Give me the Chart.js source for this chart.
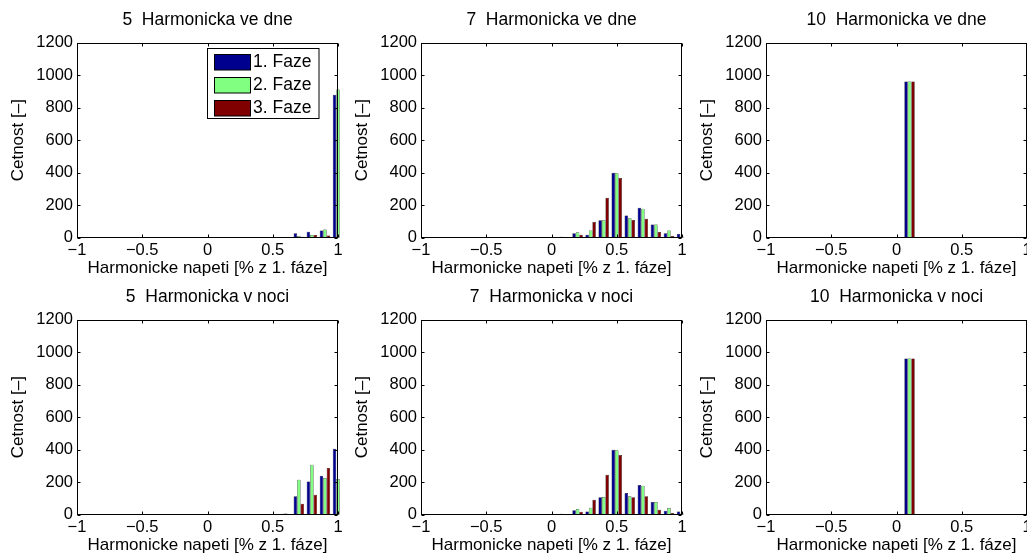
<!DOCTYPE html>
<html>
<head>
<meta charset="utf-8">
<script src="https://cdn.jsdelivr.net/npm/chart.js@4/dist/chart.umd.min.js"></script>
<style>
    html, body { margin: 0; padding: 0; background: #fff; overflow: hidden; }
    #wrap { position: relative; width: 1027px; height: 555px; overflow: hidden; }
    canvas { position: absolute; }
</style>
</head>
<body>
<div id="wrap">
    <canvas id="p1" width="346" height="280" style="left:0px;top:0px"></canvas>
    <canvas id="p2" width="346" height="280" style="left:344px;top:0px"></canvas>
    <canvas id="p3" width="346" height="280" style="left:689px;top:0px"></canvas>
    <canvas id="p4" width="346" height="280" style="left:0px;top:277px"></canvas>
    <canvas id="p5" width="346" height="280" style="left:344px;top:277px"></canvas>
    <canvas id="p6" width="346" height="280" style="left:689px;top:277px"></canvas>
</div>
<script>
// bin centres and phases
const bins   = [0.1, 0.2, 0.3, 0.4, 0.5, 0.6, 0.7, 0.8, 0.9, 1.0]
const phases = ['1. Faze', '2. Faze', '3. Faze']
const colors = ['#00008f', '#80ff80', '#800000']

// 5. harmonicka ve dne
const h5_day_1 = [0, 0, 0, 0, 1, 2, 27, 37, 45, 880]
const h5_day_2 = [0, 0, 0, 0, 0, 1, 10, 16, 51, 912]
const h5_day_3 = [0, 0, 0, 0, 0, 0, 6, 16, 14, 10]

// 7. harmonicka ve dne
const h7_day_1 = [6, 28, 18, 107, 400, 137, 185, 82, 27, 23]
const h7_day_2 = [2, 33, 45, 107, 397, 119, 178, 82, 45, 8]
const h7_day_3 = [1, 18, 96, 246, 368, 109, 117, 35, 10, 5]

// 10. harmonicka ve dne
const h10_day_1 = [962, 0, 0, 0, 0, 0, 0, 0, 0, 0]
const h10_day_2 = [962, 0, 0, 0, 0, 0, 0, 0, 0, 0]
const h10_day_3 = [962, 0, 0, 0, 0, 0, 0, 0, 0, 0]

// 5. harmonicka v noci
const h5_night_1 = [0, 0, 0, 0, 3, 6, 113, 205, 240, 406]
const h5_night_2 = [0, 0, 0, 0, 1, 8, 215, 308, 226, 220]
const h5_night_3 = [0, 0, 0, 0, 0, 1, 68, 123, 287, 150]

// 7. harmonicka v noci
const h7_night_1 = [6, 27, 20, 107, 400, 133, 183, 78, 25, 20]
const h7_night_2 = [2, 35, 43, 109, 396, 113, 178, 78, 41, 8]
const h7_night_3 = [1, 18, 92, 246, 367, 107, 113, 31, 10, 5]

// 10. harmonicka v noci
const h10_night_1 = [962, 0, 0, 0, 0, 0, 0, 0, 0, 0]
const h10_night_2 = [962, 0, 0, 0, 0, 0, 0, 0, 0, 0]
const h10_night_3 = [962, 0, 0, 0, 0, 0, 0, 0, 0, 0]

const fontFamily = '"Liberation Sans", Arial, Helvetica, sans-serif'
Chart.defaults.font.family = fontFamily
Chart.defaults.color       = '#000'

// matlab style box with inward ticks
const boxTicks = {
    id: 'boxTicks',
    afterDraw(chart) {
        const ctx = chart.ctx
        const a   = chart.chartArea
        const x   = chart.scales.x
        const y   = chart.scales.y
        const l = Math.round(a.left) + 0.5, r = Math.round(a.right) - 0.5
        const t = Math.round(a.top) + 0.5,  b = Math.round(a.bottom) - 0.5
        ctx.save()
        ctx.strokeStyle = '#000'
        ctx.lineWidth   = 1
        ctx.beginPath()
        x.ticks.forEach(tick => {
            const px = Math.round(x.getPixelForValue(tick.value)) + 0.5
            ctx.moveTo(px, b); ctx.lineTo(px, b - 3)
            ctx.moveTo(px, t); ctx.lineTo(px, t + 3)
        })
        y.ticks.forEach(tick => {
            const py = Math.round(y.getPixelForValue(tick.value)) + 0.5
            ctx.moveTo(l, py); ctx.lineTo(l + 3, py)
            ctx.moveTo(r, py); ctx.lineTo(r - 3, py)
        })
        ctx.stroke()
        ctx.strokeRect(l, t, r - l, b - t)
        ctx.restore()
    }
}

// legend drawn inside the first axes
const legendBox = {
    id: 'legendBox',
    afterDraw(chart) {
        const ctx = chart.ctx
        ctx.save()
        ctx.lineWidth   = 1
        ctx.strokeStyle = '#000'
        ctx.fillStyle   = '#fff'
        ctx.fillRect(207.5, 48.5, 111.5, 70)
        ctx.strokeRect(207.5, 48.5, 111.5, 70)
        ctx.font         = '17.5px ' + fontFamily
        ctx.textBaseline = 'middle'
        chart.data.datasets.forEach((ds, i) => {
            const top = 54.5 + i * 23
            ctx.fillStyle = ds.backgroundColor
            ctx.fillRect(214.5, top, 36, 15.5)
            ctx.strokeRect(214.5, top, 36, 15.5)
            ctx.fillStyle = '#000'
            ctx.fillText(ds.label, 253, top + 8)
        })
        ctx.restore()
    }
}

function tickText(v) {
    return v < 0 ? '\u2212' + (-v) : String(v)
}

function panel(id, title, series, extra) {
    return new Chart(document.getElementById(id), {
        type: 'bar',
        data: {
            datasets: series.map((values, i) => ({
                label: phases[i],
                data: bins.map((b, j) => ({ x: b, y: values[j] })),
                backgroundColor: colors[i],
                borderColor: '#000',
                borderWidth: 0.5,
                borderSkipped: false,
                categoryPercentage: 0.8,
                barPercentage: 1,
                clip: { left: 0, top: 0, right: 2, bottom: 0 }
            }))
        },
        options: {
            responsive: false,
            animation: false,
            layout: { padding: { left: 0, right: 8, top: 0, bottom: 0 } },
            plugins: {
                legend: { display: false },
                tooltip: { enabled: false },
                title: {
                    display: true,
                    text: title,
                    fullSize: false,
                    color: '#000',
                    font: { size: 17.5, weight: 'normal' },
                    padding: { top: 10, bottom: 11.7 }
                }
            },
            scales: {
                x: {
                    type: 'linear',
                    min: -1,
                    max: 1,
                    offset: false,
                    grid: { display: false, drawTicks: false, offset: false },
                    border: { display: false },
                    ticks: { stepSize: 0.5, padding: 3, maxRotation: 0, autoSkip: false,
                             font: { size: 16.5 }, callback: tickText },
                    title: { display: true, text: 'Harmonicke napeti [% z 1. fáze]',
                             font: { size: 17 }, padding: { top: 0, bottom: 1 } },
                    afterFit: s => { s.height = 42.3 }
                },
                y: {
                    min: 0,
                    max: 1200,
                    grid: { display: false, drawTicks: false },
                    border: { display: false },
                    ticks: { stepSize: 200, padding: 4, font: { size: 16.5 }, callback: v => String(v) },
                    title: { display: true, text: 'Cetnost [–]', font: { size: 17 }, padding: { top: 8, bottom: 0 } },
                    afterFit: s => { s.width = 77 }
                }
            }
        },
        plugins: [boxTicks].concat(extra || [])
    })
}

panel('p1', '5  Harmonicka ve dne',   [h5_day_1, h5_day_2, h5_day_3], [legendBox])
panel('p2', '7  Harmonicka ve dne',   [h7_day_1, h7_day_2, h7_day_3])
panel('p3', '10  Harmonicka ve dne',  [h10_day_1, h10_day_2, h10_day_3])
panel('p4', '5  Harmonicka v noci',   [h5_night_1, h5_night_2, h5_night_3])
panel('p5', '7  Harmonicka v noci',   [h7_night_1, h7_night_2, h7_night_3])
panel('p6', '10  Harmonicka v noci',  [h10_night_1, h10_night_2, h10_night_3])
</script>
</body>
</html>
